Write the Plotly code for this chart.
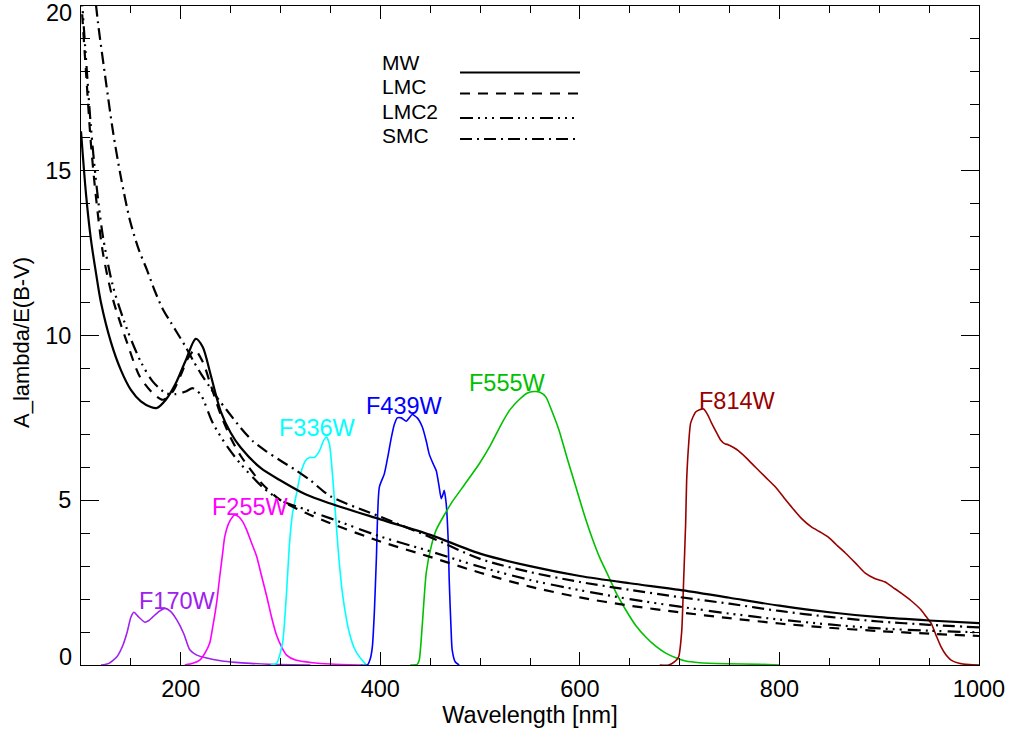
import plotly.graph_objects as go

# ---------------- data ----------------
MW_wl = [100,105,110,115,120,130,140,150,160,170,176,185,195,205,215,222,230,240,250,260,280,300,325,350,400,450,500,550,600,650,700,750,800,850,900,950,1000]
MW = [16.2,14.3,12.9,11.9,11.0,9.8,8.95,8.35,8.0,7.83,7.8,8.05,8.55,9.25,9.9,9.65,8.8,7.7,7.05,6.6,5.98,5.6,5.18,4.9,4.42,3.95,3.38,3.0,2.7,2.48,2.28,2.04,1.8,1.6,1.45,1.35,1.27]

LMC_wl = [100,105,110,115,122,132,146,159,172,182,192,200,207,214,222,230,240,250,260,280,300,325,350,400,450,500,550,600,650,700,750,800,850,900,950,1000]
LMC = [20.3,18.0,15.8,14.2,12.5,11.1,9.8,8.75,8.25,8.05,8.3,8.8,9.3,9.56,9.2,8.5,7.6,6.9,6.35,5.55,5.0,4.62,4.3,3.75,3.28,2.8,2.38,2.05,1.8,1.6,1.42,1.26,1.13,1.03,0.95,0.88]

LMC2_wl = [100,105,110,115,122,132,146,160,172,185,195,205,212,220,232,245,260,282,300,325,350,400,450,500,550,600,650,700,750,800,850,900,950,1000]
LMC2 = [20.6,18.4,16.3,14.7,13.0,11.5,10.2,9.2,8.6,8.25,8.22,8.3,8.4,8.2,7.35,6.7,6.1,5.4,5.0,4.72,4.45,3.9,3.45,2.98,2.58,2.27,2.0,1.77,1.56,1.38,1.23,1.11,1.04,0.99]

SMC_wl = [110,117,125,132,140,149,158,166,174,182,190,196,205,212,220,229,238,246,260,272,285,299,316,330,350,400,450,500,550,600,650,700,750,800,850,900,950,1000]
SMC = [21.5,19.5,17.7,16.2,14.8,13.5,12.6,12.0,11.35,10.8,10.4,10.1,9.65,9.26,8.85,8.44,8.05,7.74,7.2,6.8,6.5,6.22,5.9,5.6,5.12,4.5,3.88,3.22,2.82,2.52,2.28,2.06,1.86,1.64,1.46,1.32,1.22,1.14]

F170W_wl = [120,128,136,142,146,150,153,158,164,168,172,178,184,190,196,203,209,216,226,240,255,270,300,330]
F170W = [0,0.05,0.25,0.6,0.97,1.45,1.6,1.45,1.3,1.35,1.46,1.62,1.72,1.62,1.37,0.95,0.46,0.3,0.21,0.13,0.08,0.05,0.01,0]

F255W_wl = [204,212,219,224,229,232,236,239,242,244,248,252,254,258,262,266,271,276,281,286,291,296,301,306,315,332,350,380]
F255W = [0,0.05,0.15,0.35,0.67,1.15,1.9,2.67,3.4,3.88,4.3,4.5,4.55,4.5,4.35,4.1,3.7,3.3,2.7,2.1,1.45,0.9,0.55,0.3,0.15,0.07,0.03,0]

F336W_wl = [290,296,302,306,309,312,316,320,325,329,334,339,343,346,349,352,355,358,362,366,369,374,379,386]
F336W = [0,0.05,0.67,2.2,3.7,4.6,5.2,5.8,6.2,6.3,6.3,6.5,6.8,6.92,6.7,5.8,4.6,3.4,2.18,1.4,0.97,0.5,0.25,0]

F439W_wl = [380,387,390,392,394,396,399,404,408,411,414,417,421,426,429,432,437,442,446,449,453,456,459,461,463,464,466,468,469,471,472,475,479]
F439W = [0,0,0.2,0.55,1.6,3.2,5.4,5.8,6.4,6.9,7.3,7.5,7.5,7.4,7.5,7.6,7.5,7.23,6.8,6.4,6.1,5.9,5.4,5.05,5.2,5.3,4.9,3.8,2.6,1.0,0.46,0.1,0]

F555W_wl = [430,437,439,442,446,451,456,464,472,485,499,510,522,530,539,547,554,560,566,572,579,587,596,604,612,620,629,637,646,656,666,676,686,696,706,720,746,780,800]
F555W = [0,0.02,0.15,1.2,2.8,3.6,4.1,4.55,4.95,5.5,6.1,6.65,7.35,7.75,8.05,8.25,8.3,8.28,8.13,7.7,7.13,6.3,5.4,4.6,3.88,3.25,2.67,2.15,1.67,1.2,0.85,0.57,0.36,0.22,0.12,0.07,0.04,0.02,0]

F814W_wl = [680,689,695,699,702,704,706,707,709,711,716,720,724,728,732,737,741,745,749,754,759,767,776,786,796,804,812,822,832,840,849,857,866,876,886,896,906,914,922,932,942,947,952,957,962,967,972,980,990,1000]
F814W = [0,0,0.1,0.25,1.0,2.58,4.3,5.6,6.7,7.34,7.68,7.75,7.77,7.6,7.34,7.05,6.83,6.72,6.68,6.6,6.5,6.28,6.0,5.7,5.4,5.1,4.8,4.45,4.19,4.05,3.88,3.65,3.4,3.1,2.79,2.62,2.52,2.35,2.18,1.95,1.67,1.47,1.27,0.9,0.55,0.3,0.15,0.05,0.01,0]

X_TICKS = [200, 400, 600, 800, 1000]
Y_TICKS = [0, 5, 10, 15, 20]

filters = [
    ("F170W", F170W_wl, F170W, "#A020F0", 197, 1.94),
    ("F255W", F255W_wl, F255W, "#FF00FF", 270, 4.8),
    ("F336W", F336W_wl, F336W, "#00FFFF", 337, 7.19),
    ("F439W", F439W_wl, F439W, "#0000FF", 424, 7.86),
    ("F555W", F555W_wl, F555W, "#00C000", 527, 8.56),
    ("F814W", F814W_wl, F814W, "#990000", 758, 8.01),
]

ext = [
    ("MW", MW_wl, MW, "solid"),
    ("LMC", LMC_wl, LMC, "10px,8px"),
    ("LMC2", LMC2_wl, LMC2, "13px,5px,2px,5px,2px,5px,2px,6px"),
    ("SMC", SMC_wl, SMC, "12px,5px,2px,5px"),
]

FONT = "Liberation Sans, Arial, Helvetica, sans-serif"
FS = 23.5
FS_LEG = 21

fig = go.Figure()
for name, wl, val, col, tx, ty in filters:
    fig.add_trace(go.Scatter(x=wl, y=val, mode="lines", name=name,
                             line=dict(color=col, width=1.6, shape="spline", smoothing=0.6),
                             showlegend=False, hoverinfo="skip"))
    fig.add_annotation(x=tx, y=ty, xref="x", yref="y", text=name, showarrow=False,
                       font=dict(color=col, size=FS, family=FONT))

for name, wl, val, dash in ext:
    fig.add_trace(go.Scatter(x=wl, y=val, mode="lines", name=name,
                             line=dict(color="black", width=2.2, dash=dash, shape="spline", smoothing=0.8),
                             showlegend=False, hoverinfo="skip"))

X0, X1 = 81, 979
Y0, Y1 = 665, 6
def px2paper(px, py):
    return (px - X0) / (X1 - X0), (Y0 - py) / (Y0 - Y1)

# manual legend (IDL style)
leg_text_py = [62, 86.5, 111, 135.5]
leg_line_py = [72.5, 93.5, 118, 139]
for (name, wl, val, dash), tpy, lpy in zip(ext, leg_text_py, leg_line_py):
    tx, ty = px2paper(380, tpy)
    fig.add_annotation(x=tx, y=ty, xref="paper", yref="paper", text=name, showarrow=False,
                       xanchor="left", yanchor="middle",
                       font=dict(color="black", size=FS_LEG, family=FONT))
    lx0, ly = px2paper(460, lpy)
    lx1, _ = px2paper(580, lpy)
    fig.add_shape(type="line", x0=lx0, x1=lx1, y0=ly, y1=ly, xref="paper", yref="paper",
                  line=dict(color="black", width=2.2, dash=dash))

# end y labels kept inside the page, as in the IDL original
y_ticktext = [("" if v in (Y_TICKS[0], Y_TICKS[-1]) else str(v)) for v in Y_TICKS]
for v, py in ((Y_TICKS[0], 657), (Y_TICKS[-1], 13)):
    ax, ay = px2paper(74, py)
    fig.add_annotation(x=ax, y=ay, xref="paper", yref="paper", text=str(v), showarrow=False,
                       xanchor="right", yanchor="middle", font=dict(color="black", size=FS, family=FONT))

# y title
tx, ty = px2paper(21, 343)
fig.add_annotation(x=tx, y=ty, xref="paper", yref="paper", text="A_lambda/E(B-V)", showarrow=False,
                   textangle=-90, xanchor="center", yanchor="middle",
                   font=dict(color="black", size=22, family=FONT))

fig.update_layout(
    width=1011, height=731,
    margin=dict(l=X0, r=1011 - X1, t=Y1, b=731 - Y0, autoexpand=False),
    paper_bgcolor="white", plot_bgcolor="white",
    font=dict(family=FONT, size=FS, color="black"),
    showlegend=False,
)
fig.update_xaxes(
    range=[100, 1000], tickvals=X_TICKS,
    ticks="inside", ticklen=13, tickwidth=1, tickcolor="black",
    minor=dict(dtick=50, tick0=0, ticks="inside", ticklen=7, tickcolor="black", tickwidth=1),
    showline=True, linecolor="black", linewidth=1, mirror="ticks",
    showgrid=False, zeroline=False, automargin=False,
    title=dict(text="Wavelength [nm]", standoff=0, font=dict(size=FS)),
    tickfont=dict(size=FS), ticklabelstandoff=3, ticklabeloverflow="allow",
)
fig.update_yaxes(
    range=[0, 20], tickvals=Y_TICKS, ticktext=y_ticktext,
    ticks="inside", ticklen=18, tickwidth=1, tickcolor="black",
    minor=dict(dtick=1, tick0=0, ticks="inside", ticklen=9, tickcolor="black", tickwidth=1),
    showline=True, linecolor="black", linewidth=1, mirror="ticks",
    showgrid=False, zeroline=False, automargin=False,
    tickfont=dict(size=FS), ticklabelstandoff=4, ticklabeloverflow="allow",
)

fig.write_html("out.html")
